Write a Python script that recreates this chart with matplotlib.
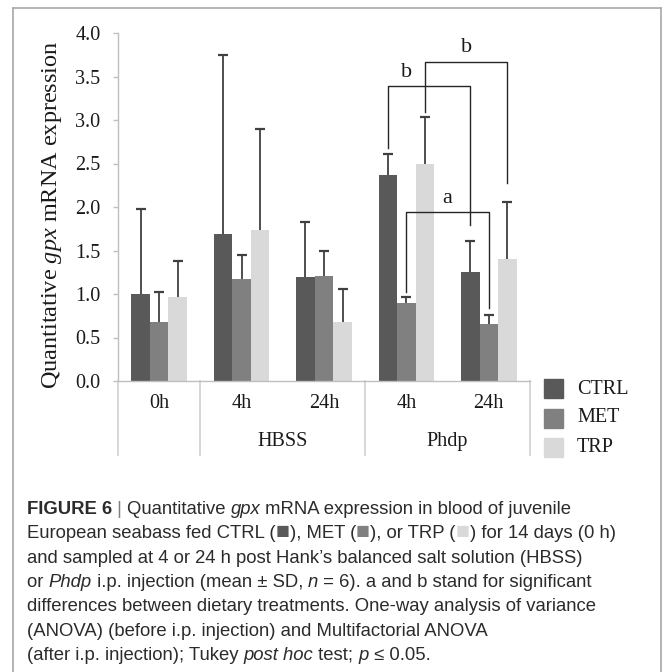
import numpy as np
import matplotlib
matplotlib.use("Agg")
import matplotlib.pyplot as plt
from matplotlib.patches import Rectangle
from matplotlib.lines import Line2D

W, H = 666, 672

# -----------------------------
# Data
# -----------------------------
times = ["0h", "4h", "24h", "4h", "24h"]
groups = ["HBSS", "Phdp"]
group_pos = [1.5, 3.5]
treatments = ["CTRL", "MET", "TRP"]

ctrl_mean = [1.00, 1.69, 1.19, 2.37, 1.25]
ctrl_sd = [0.98, 2.06, 0.64, 0.24, 0.36]
met_mean = [0.68, 1.17, 1.21, 0.90, 0.65]
met_sd = [0.34, 0.28, 0.29, 0.07, 0.11]
trp_mean = [0.97, 1.73, 0.68, 2.50, 1.40]
trp_sd = [0.41, 1.17, 0.38, 0.54, 0.66]

# significance brackets: label, (time, treatment) start/end, top, left end, right end
sig_labels = ["b", "b", "a"]
sig_from = [(3, 0), (3, 2), (3, 1)]
sig_to = [(4, 0), (4, 2), (4, 1)]
sig_top = [3.39, 3.67, 1.94]
sig_left_end = [2.68, 3.09, 1.02]
sig_right_end = [1.79, 2.28, 0.84]
sig_label_x = [3.0, None, None]

colors = ["#595959", "#808080", "#d9d9d9"]

plt.rcParams["mathtext.fontset"] = "custom"
plt.rcParams["mathtext.rm"] = "Liberation Serif"
plt.rcParams["mathtext.it"] = "Liberation Serif:italic"

SERIF = "Liberation Serif"
CAP_FONT = ["Liberation Sans", "DejaVu Sans"]


def px(x, y):
    return x / W, 1 - y / H


fig = plt.figure(figsize=(W / 100, H / 100), dpi=100)
ax = fig.add_axes([118 / W, 1 - 381 / H, 412 / W, 348 / H])

# -----------------------------
# Bars with upper error bars
# -----------------------------
x = np.arange(len(times))
bw = 0.225
means = [ctrl_mean, met_mean, trp_mean]
sds = [ctrl_sd, met_sd, trp_sd]

for k in range(3):
    xpos = x + (k - 1) * bw
    m = np.array(means[k])
    s = np.array(sds[k])
    ax.bar(xpos, m, bw, color=colors[k], zorder=2)
    ax.vlines(xpos, m, m + s, color="#404040", lw=1.3, zorder=3)
    ax.plot(xpos, m + s, ls="none", marker="_", ms=7, mew=1.6,
            color="#404040", zorder=3)

# -----------------------------
# Significance brackets
# -----------------------------
for i in range(len(sig_labels)):
    x1 = sig_from[i][0] + (sig_from[i][1] - 1) * bw
    x2 = sig_to[i][0] + (sig_to[i][1] - 1) * bw
    ax.plot([x1, x1, x2, x2],
            [sig_left_end[i], sig_top[i], sig_top[i], sig_right_end[i]],
            color="#262626", lw=1.0, zorder=4, clip_on=False)
    lx = sig_label_x[i] if sig_label_x[i] is not None else (x1 + x2) / 2
    ax.text(lx, sig_top[i] + 0.05, sig_labels[i], ha="center", va="bottom",
            fontsize=16, family=SERIF, color="#1a1a1a")

# -----------------------------
# Axes styling
# -----------------------------
ax.set_xlim(-0.5, 4.5)
ax.set_ylim(0, 4)
ax.set_yticks(np.arange(0, 4.01, 0.5))
ax.set_yticklabels([f"{v:.1f}" for v in np.arange(0, 4.01, 0.5)])
ax.set_xticks([])
for side in ["top", "right"]:
    ax.spines[side].set_visible(False)
ax.spines["left"].set_color("#bfbfbf")
ax.spines["bottom"].set_color("#bfbfbf")
ax.spines["left"].set_linewidth(1.0)
ax.spines["bottom"].set_linewidth(1.0)
ax.tick_params(axis="y", direction="out", length=3.6, width=1.0,
               color="#bfbfbf", pad=9, labelsize=14.5, labelcolor="#1a1a1a")
for lab in ax.get_yticklabels():
    lab.set_family(SERIF)

# multi-level category axis
xt = ax.get_xaxis_transform()
for i, t in enumerate(times):
    ax.text(i, -0.066, t, transform=xt, ha="center", va="center",
            fontsize=14.5, family=SERIF, color="#1a1a1a")
for g, gp in zip(groups, group_pos):
    ax.text(gp, -0.175, g, transform=xt, ha="center", va="center",
            fontsize=14.5, family=SERIF, color="#1a1a1a")
for d in [-0.5, 0.5, 2.5, 4.5]:
    ax.plot([d, d], [0, -0.213], transform=xt, color="#d0d0d0", lw=1.2,
            clip_on=False)

fig.text(*px(52, 215), "Quantitative $\\mathit{gpx}$ mRNA expression",
         rotation=90, ha="center", va="center", fontsize=17.5, family=SERIF,
         color="#1a1a1a")

# -----------------------------
# Legend (drawn by hand, Excel style)
# -----------------------------
leg_y = [389, 418, 447]
for k in range(3):
    fig.add_artist(Rectangle(px(544, leg_y[k] + 9.5), 19 / W, 19 / H,
                             transform=fig.transFigure, color=colors[k]))
    fig.text(*px(577, leg_y[k]), treatments[k], ha="left", va="center",
             fontsize=14.5, family=SERIF, color="#1a1a1a")

# -----------------------------
# Frame
# -----------------------------
fc = "#a8a8a8"
fig.add_artist(Line2D([13 / W, 13 / W], [0, 1 - 8 / H],
                      transform=fig.transFigure, color=fc, lw=1.2))
fig.add_artist(Line2D([661 / W, 661 / W], [0, 1 - 8 / H],
                      transform=fig.transFigure, color=fc, lw=1.2))
fig.add_artist(Line2D([13 / W, 661 / W], [1 - 8 / H, 1 - 8 / H],
                      transform=fig.transFigure, color=fc, lw=1.2))

# -----------------------------
# Caption
# -----------------------------
renderer = fig.canvas.get_renderer()
CAP_FS = 13.3
CAP_COL = "#2b2b2b"
CAP_X = 27


def measure(s, **kw):
    t = fig.text(0, 0, "x" + s + "x", family=CAP_FONT, **kw)
    w1 = t.get_window_extent(renderer).width
    t.set_text("xx")
    w0 = t.get_window_extent(renderer).width
    t.remove()
    return w1 - w0


def caption_line(y, pieces):
    xx = CAP_X
    for s, kw in pieces:
        kw = dict(kw)
        col = kw.pop("color", CAP_COL)
        kw.setdefault("fontsize", CAP_FS)
        fig.text(*px(xx, y), s, ha="left", va="baseline",
                 family=CAP_FONT, color=col, **kw)
        xx += measure(s, **kw)


IT = {"style": "italic"}
sq = "\u25a0"
SQ_FS = CAP_FS * 1.25
cap_lines = [
    [("FIGURE 6", {"weight": "bold"}), (" | ", {"color": "#808080"}),
     ("Quantitative ", {}), ("gpx", IT),
     (" mRNA expression in blood of juvenile", {})],
    [("European seabass fed CTRL (", {}),
     (sq, {"color": colors[0], "fontsize": SQ_FS}),
     ("), MET (", {}), (sq, {"color": colors[1], "fontsize": SQ_FS}),
     ("), or TRP (", {}), (sq, {"color": colors[2], "fontsize": SQ_FS}),
     (") for 14 days (0 h)", {})],
    [("and sampled at 4 or 24 h post Hank\u2019s balanced salt solution (HBSS)", {})],
    [("or ", {}), ("Phdp", IT), (" i.p. injection (mean \u00b1 SD, ", {}),
     ("n", IT), (" = 6). a and b stand for significant", {})],
    [("differences between dietary treatments. One-way analysis of variance", {})],
    [("(ANOVA) (before i.p. injection) and Multifactorial ANOVA", {})],
    [("(after i.p. injection); Tukey ", {}), ("post hoc", IT),
     (" test; ", {}), ("p", IT), (" \u2264 0.05.", {})],
]
for i, pieces in enumerate(cap_lines):
    caption_line(514 + 24.3 * i, pieces)

fig.savefig("out.png", dpi=100)
